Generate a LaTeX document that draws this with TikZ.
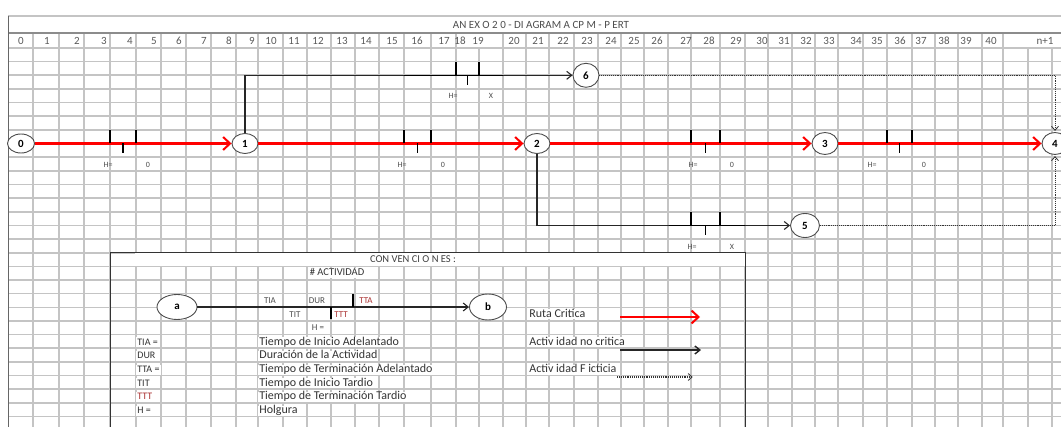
\documentclass[tikz,border=0pt]{standalone}
\usepackage{fontspec}
\setmainfont{Carlito}
\usetikzlibrary{arrows.meta,shapes.geometric}
\definecolor{gridgray}{RGB}{196,196,196}
\definecolor{ttred}{RGB}{170,50,50}

\begin{document}
\begin{tikzpicture}[x=1pt,y=-1pt,line width=0.75pt,
  cell/.style={draw=gridgray,line width=1.6pt},
  event/.style={ellipse,draw=black!70,line width=0.9pt,fill=white,
    minimum width=26pt,minimum height=20pt,inner sep=0pt,font=\fontsize{11}{11}\selectfont\bfseries},
  crit/.style={draw=red,line width=2.2pt,-{Straight Barb[length=7pt,width=13pt,line width=2pt]}},
  act/.style={draw=black!85,line width=1.1pt,-{Straight Barb[length=5pt,width=8pt]}},
  fict/.style={draw=black!80,line width=1pt,dash pattern=on 1pt off 0.9pt,-{Straight Barb[length=4pt,width=7pt,line width=0.8pt,sep]}},
  tick/.style={draw=black,line width=1.4pt},
  lab/.style={font=\fontsize{8}{8}\selectfont,text=black!70,inner sep=0pt},
  hdr/.style={font=\fontsize{11}{11}\selectfont,text=black!65,inner sep=0pt},
  txt/.style={font=\fontsize{12}{12}\selectfont,text=black!80,fill=white,inner xsep=1pt,inner ysep=0.5pt,
    text height=7.5pt,text depth=1.5pt,anchor=west},
  every node/.style={font=\fontsize{9}{10}\selectfont}]
 \useasboundingbox (0,0) rectangle (1061,427);

 % hoja de calculo
 \foreach \r in {0,...,28} \draw[cell] (8,48+\r*13.65) -- (1061,48+\r*13.65);
 \foreach \c in {33,59,84,110,136,161,186,211,236,258,283,307,331,355,379,404,431,456,479,503,526,549,574,598,621,644,668,691,720,745,768,792,815,838,863,887,912,935,958,982,1003,1028,1052}
   \draw[cell] (\c,48) -- (\c,427);
 \foreach \c in {33,59,84,110,136,161,186,211,236,258,283,307,331,355,379,404,431,456,503,526,549,574,598,621,644,668,691,720,745,768,792,815,838,863,887,912,935,958,982,1003}
   \draw[cell] (\c,33) -- (\c,48);
 \draw[draw=gridgray,line width=1.2pt] (8,16) -- (1061,16);
 \draw[draw=black!45,line width=1.6pt] (8,33) -- (1061,33);
 \draw[draw=black!60,line width=0.8pt] (8,16) -- (8,427);
 \node[font=\fontsize{11}{11}\selectfont,text=black!70] (titulo) at (541,25) {AN EX O 2 0 - DI AGRAM A CP M - P ERT};
 \foreach \lbl/\xx in {0/21,1/47,2/77,3/104,4/130,5/154,6/179,7/204,8/229,9/252,10/271,11/294,12/318,13/342,14/366,15/392,16/417,17/444,18/460,19/478,20/514,21/538,22/563,23/587,24/611,25/634,26/657,27/686,28/709,29/736,30/762,31/784,32/806,33/829,34/856,35/877,36/900,37/921,38/944,39/966,40/991,n+1/1045}
   \node[hdr] at (\xx,41) {\lbl};

 % red de actividades
 \node[event,minimum width=27pt,minimum height=19pt] (n0) at (21,143.5) {0};
 \node[event] (n1) at (245,143.5) {1};
 \node[event] (n2) at (537,143.5) {2};
 \node[event,minimum height=22pt] (n3) at (825,143.5) {3};
 \node[event,minimum height=22pt] (n4) at (1055,143.5) {4};
 \node[event,minimum height=24pt] (n6) at (586,75.3) {6};
 \node[event,minimum width=29pt,minimum height=24pt] (n5) at (805,225.5) {5};

 \draw[fict] (n6) -| (n4);
 \draw[fict] (n5) -| (n4);
 \draw[act] (n1) |- (n6);
 \draw[act] (n2) |- (n5);
 \draw[crit] (n0) -- (n1);
 \draw[crit] (n1) -- (n2);
 \draw[crit] (n2) -- (n3);
 \draw[crit] (n3) -- (n4);

 \draw[tick] (404,75.3) -- (503,75.3);
 \draw[tick] (669,225.5) -- (745,225.5);
 \foreach \xa/\xb/\yy/\xh/\hv in {110/136/143.5/108/0,404/431/143.5/402/0,691/720/143.5/693/0,
     887/912/143.5/872/0,456/479/75.3/453/X,691/720/225.5/692/X} {
   \draw[tick] (\xa,\yy) -- ++(0,-13.65);
   \draw[tick] (\xb,\yy) -- ++(0,-13.65);
   \draw[tick] ({(\xa+\xb)/2},\yy) -- ++(0,10);
   \node[lab] at (\xh,\yy+21) {H=};
   \node[lab] at (\xb+12,\yy+21) {\hv};
 }

 % convenciones
 \fill[white] (135,253) rectangle (745,266.4);
 \draw[black!80,line width=1pt] (110,440) -- (110,253) -- (745,253) -- (745,440);
 \node[font=\fontsize{10.5}{11}\selectfont,text=black!75] (conv) at (413,259.6) {CON VEN CI O N ES :};
 \node[txt,anchor=center,font=\fontsize{10.5}{11}\selectfont] (numact) at (337,273) {\# ACTIVIDAD};
 \node[event,minimum width=40pt,minimum height=25pt] (a) at (177,307) {a};
 \node[event,minimum width=37pt,minimum height=26pt] (b) at (488,307) {b};
 \draw[act] (a) -- (b);
 \draw[tick] (353,307.35) -- ++(0,-13.65);
 \draw[tick] (331,307.35) -- ++(0,12);
 \node[lab,font=\fontsize{9}{9}\selectfont] at (270,300.5) {TIA};
 \node[lab,font=\fontsize{9}{9}\selectfont] at (317,300.5) {DUR};
 \node[lab,font=\fontsize{9}{9}\selectfont,text=ttred] at (366,300.5) {TTA};
 \node[lab,font=\fontsize{9}{9}\selectfont] at (295,314.2) {TIT};
 \node[lab,font=\fontsize{9}{9}\selectfont,text=ttred] at (341,314.2) {TTT};
 \node[lab,font=\fontsize{9}{9}\selectfont] at (318,327.8) {H =};

 \foreach \sig/\desc/\yy in {TIA =/Tiempo de Inicio Adelantado/342.4,DUR/Duración de la Actividad/356,
     TTA =/Tiempo de Terminación Adelantado/369.7,TIT/Tiempo de Inicio Tardio/383.3,
     TTT/Tiempo de Terminación Tardio/397,H =/Holgura/410.6} {
   \node[txt,font=\fontsize{10}{10}\selectfont] at (136,\yy) {\sig};
   \node[txt] at (258,\yy) {\desc};
 }
 \node[txt,font=\fontsize{10}{10}\selectfont,text=ttred] at (136,397) {TTT};

 \node[txt] (ruta) at (528,314.2) {Ruta Critica};
 \node[txt] (nocrit) at (528,342.4) {Activ idad no critica};
 \node[txt] (ficti) at (528,369.7) {Activ idad F icticia};
 \coordinate (r1) at (620,317); \coordinate (r2) at (700,317);
 \coordinate (k1) at (620,350); \coordinate (k2) at (701,350);
 \coordinate (f1) at (617,377); \coordinate (f2) at (694,377);
 \draw[crit,line width=1.8pt] (r1) -- (r2);
 \draw[act,line width=1.4pt] (k1) -- (k2);
 \draw[fict,line width=1.3pt] (f1) -- (f2);
\end{tikzpicture}
\end{document}
